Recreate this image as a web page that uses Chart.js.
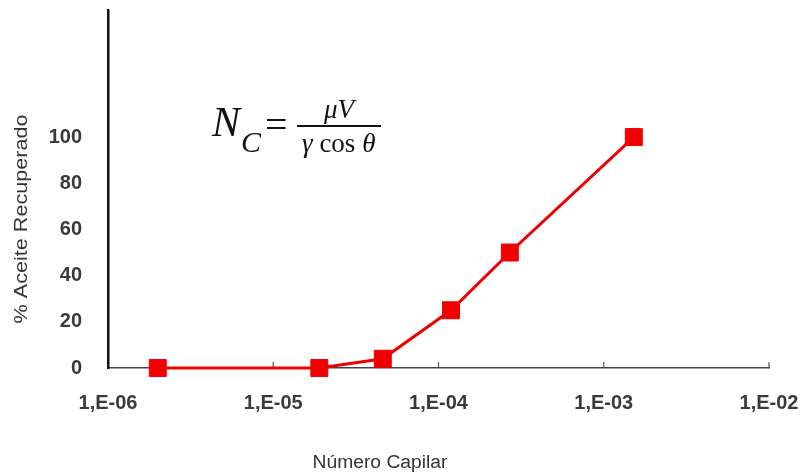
<!DOCTYPE html>
<html>
<head>
<meta charset="utf-8">
<script src="https://cdn.jsdelivr.net/npm/chart.js@4/dist/chart.umd.min.js"></script>
<style>
  html, body { margin: 0; padding: 0; background: #fff; }
  #wrap { width: 805px; height: 475px; position: relative; }
</style>
</head>
<body>
<div id="wrap"><canvas id="myChart" width="805" height="475"></canvas></div>
<script>
// data
const capillaryNumbers = [2e-6, 1.9e-5, 4.6e-5, 1.19e-4, 2.7e-4, 1.52e-3];
const oilRecovered = [0, 0, 4, 25, 50, 100];
const xDecades = [1e-6, 1e-5, 1e-4, 1e-3, 1e-2];
const yTicks = [0, 20, 40, 60, 80, 100];

const xTitle = 'Número Capilar';
const yTitle = '% Aceite Recuperado';

function decadeLabel(v) {
  const e = Math.round(Math.log10(v));
  return '1,E-' + String(-e).padStart(2, '0');
}

// titles, formula and the small inner ticks on the x axis
const extras = {
  id: 'extras',
  beforeDatasetsDraw(chart) {
    const ctx = chart.ctx;
    const x = chart.scales.x;
    const y0 = chart.scales.y.getPixelForValue(0);
    ctx.save();
    ctx.strokeStyle = '#555';
    ctx.lineWidth = 1.2;
    xDecades.slice(1).forEach(v => {
      const px = x.getPixelForValue(v);
      ctx.beginPath();
      ctx.moveTo(px, y0);
      ctx.lineTo(px, y0 - 6);
      ctx.stroke();
    });
    ctx.restore();
  },
  afterDraw(chart) {
    const ctx = chart.ctx;
    ctx.save();
    ctx.fillStyle = '#333';
    ctx.textAlign = 'center';
    ctx.textBaseline = 'middle';

    // x title
    ctx.font = '18px "Liberation Sans", Arial, sans-serif';
    ctx.save();
    ctx.translate(380, 463);
    ctx.scale(1.07, 1);
    ctx.fillText(xTitle, 0, 0);
    ctx.restore();

    // y title
    ctx.save();
    ctx.translate(22, 219);
    ctx.rotate(-Math.PI / 2);
    ctx.scale(1.2, 1);
    ctx.fillText(yTitle, 0, 0);
    ctx.restore();

    // formula
    ctx.fillStyle = '#111';
    ctx.textAlign = 'left';
    ctx.textBaseline = 'alphabetic';
    ctx.font = 'italic 42px "Liberation Serif", serif';
    ctx.fillText('N', 212, 136);
    ctx.font = 'italic 30px "Liberation Serif", serif';
    ctx.fillText('C', 241, 152);
    ctx.font = '40px "Liberation Serif", serif';
    ctx.fillText('=', 265, 138);
    ctx.fillRect(297, 125, 84, 2);
    ctx.textAlign = 'center';
    ctx.font = 'italic 27px "Liberation Serif", serif';
    ctx.fillText('\u03bcV', 339, 118);
    ctx.textAlign = 'left';
    let px = 302;
    ctx.font = 'italic 27px "Liberation Serif", serif';
    ctx.fillText('\u03b3', px, 152);
    px += ctx.measureText('\u03b3 ').width;
    ctx.font = '27px "Liberation Serif", serif';
    ctx.fillText('cos', px, 152);
    px += ctx.measureText('cos ').width;
    ctx.font = 'italic 27px "Liberation Serif", serif';
    ctx.fillText('\u03b8', px, 152);
    ctx.restore();
  }
};

const canvas = document.getElementById('myChart');

new Chart(canvas, {
  type: 'line',
  data: {
    datasets: [{
      label: '% Aceite Recuperado',
      data: capillaryNumbers.map((v, i) => ({ x: v, y: oilRecovered[i] })),
      borderColor: 'rgb(236, 0, 0)',
      backgroundColor: 'rgb(240, 0, 0)',
      borderWidth: 3,
      pointStyle: 'rect',
      pointRadius: 12,
      pointBorderWidth: 1,
      pointBorderColor: 'rgb(240, 0, 0)',
      tension: 0,
      clip: false
    }]
  },
  options: {
    responsive: false,
    animation: false,
    layout: {
      autoPadding: false,
      padding: { top: 10, right: 36, left: 0, bottom: 0 }
    },
    plugins: {
      legend: { display: false },
      tooltip: { enabled: false }
    },
    scales: {
      x: {
        type: 'logarithmic',
        min: 1e-6,
        max: 1e-2,
        afterBuildTicks(scale) {
          scale.ticks = xDecades.map(v => ({ value: v }));
        },
        afterFit(scale) {
          scale.height = 107;
          scale.paddingLeft = 0;
          scale.paddingRight = 0;
        },
        grid: { display: false, drawTicks: false },
        border: { display: true, color: '#444', width: 1.5 },
        ticks: {
          padding: 23,
          color: '#3a3a3a',
          autoSkip: false,
          maxRotation: 0,
          font: { family: '"Liberation Sans", Arial, sans-serif', size: 20, weight: 'bold' },
          callback: (v) => decadeLabel(v)
        }
      },
      y: {
        min: 0,
        max: 155,
        afterBuildTicks(scale) {
          scale.ticks = yTicks.map(v => ({ value: v }));
        },
        afterFit(scale) {
          scale.width = 108;
          scale.paddingTop = 0;
          scale.paddingBottom = 0;
        },
        grid: { display: false, drawTicks: false },
        border: { display: true, color: '#111', width: 2.5 },
        ticks: {
          padding: 26,
          color: '#3a3a3a',
          font: { family: '"Liberation Sans", Arial, sans-serif', size: 20, weight: 'bold' }
        }
      }
    }
  },
  plugins: [extras]
});
</script>
</body>
</html>
